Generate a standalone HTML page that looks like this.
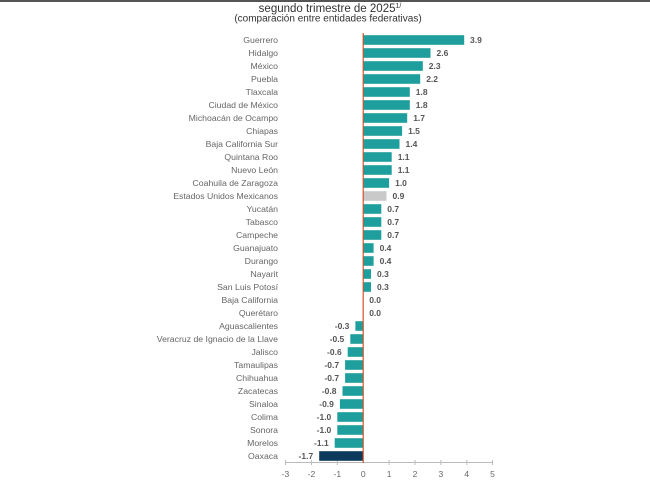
<!DOCTYPE html>
<html><head><meta charset="utf-8"><style>
html,body{margin:0;padding:0;background:#fff;}
svg{display:block;}
</style></head><body>
<svg width="650" height="483" viewBox="0 0 650 483" xmlns="http://www.w3.org/2000/svg" font-family="Liberation Sans, Arial, sans-serif">
<rect x="0" y="0" width="650" height="483" fill="#fff"/>
<rect x="0" y="0" width="650" height="2" fill="#555"/>
<text x="330" y="12" font-size="11.5" fill="#333" text-anchor="middle">segundo trimestre de 2025<tspan font-size="7" dy="-4">1/</tspan></text>
<text x="328" y="21.5" font-size="10" fill="#333" text-anchor="middle">(comparación entre entidades federativas)</text>
<!-- axis -->
<line x1="285" y1="462.5" x2="493" y2="462.5" stroke="#bbb" stroke-width="1"/>
<g stroke="#bbb" stroke-width="1">
<line x1="285.5" y1="460" x2="285.5" y2="465"/>
<line x1="311.4" y1="460" x2="311.4" y2="465"/>
<line x1="337.3" y1="460" x2="337.3" y2="465"/>
<line x1="389.1" y1="460" x2="389.1" y2="465"/>
<line x1="415" y1="460" x2="415" y2="465"/>
<line x1="440.9" y1="460" x2="440.9" y2="465"/>
<line x1="466.8" y1="460" x2="466.8" y2="465"/>
<line x1="492.5" y1="460" x2="492.5" y2="465"/>
</g>
<g font-size="8.5" fill="#666" text-anchor="middle">
<text x="285.5" y="477">-3</text>
<text x="311.4" y="477">-2</text>
<text x="337.3" y="477">-1</text>
<text x="363.2" y="477">0</text>
<text x="389.1" y="477">1</text>
<text x="415" y="477">2</text>
<text x="440.9" y="477">3</text>
<text x="466.8" y="477">4</text>
<text x="492.5" y="477">5</text>
</g>
<g font-size="8.7" fill="#666" text-anchor="end">
<text x="278" y="43">Guerrero</text>
<text x="278" y="56">Hidalgo</text>
<text x="278" y="69">México</text>
<text x="278" y="82">Puebla</text>
<text x="278" y="95">Tlaxcala</text>
<text x="278" y="108">Ciudad de México</text>
<text x="278" y="121">Michoacán de Ocampo</text>
<text x="278" y="134">Chiapas</text>
<text x="278" y="147">Baja California Sur</text>
<text x="278" y="160">Quintana Roo</text>
<text x="278" y="173">Nuevo León</text>
<text x="278" y="186">Coahuila de Zaragoza</text>
<text x="278" y="199">Estados Unidos Mexicanos</text>
<text x="278" y="212">Yucatán</text>
<text x="278" y="225">Tabasco</text>
<text x="278" y="238">Campeche</text>
<text x="278" y="251">Guanajuato</text>
<text x="278" y="264">Durango</text>
<text x="278" y="277">Nayarit</text>
<text x="278" y="290">San Luis Potosí</text>
<text x="278" y="303">Baja California</text>
<text x="278" y="316">Querétaro</text>
<text x="278" y="329">Aguascalientes</text>
<text x="278" y="342">Veracruz de Ignacio de la Llave</text>
<text x="278" y="355">Jalisco</text>
<text x="278" y="368">Tamaulipas</text>
<text x="278" y="381">Chihuahua</text>
<text x="278" y="394">Zacatecas</text>
<text x="278" y="407">Sinaloa</text>
<text x="278" y="420">Colima</text>
<text x="278" y="433">Sonora</text>
<text x="278" y="446">Morelos</text>
<text x="278" y="459">Oaxaca</text>
</g>
<!-- bars -->
<g fill="#1e9e9c">
<rect x="363.2" y="35.2" width="101.0" height="9.6"/>
<rect x="363.2" y="48.2" width="67.3" height="9.6"/>
<rect x="363.2" y="61.2" width="59.6" height="9.6"/>
<rect x="363.2" y="74.2" width="57.0" height="9.6"/>
<rect x="363.2" y="87.2" width="46.6" height="9.6"/>
<rect x="363.2" y="100.2" width="46.6" height="9.6"/>
<rect x="363.2" y="113.2" width="44.0" height="9.6"/>
<rect x="363.2" y="126.2" width="38.9" height="9.6"/>
<rect x="363.2" y="139.2" width="36.3" height="9.6"/>
<rect x="363.2" y="152.2" width="28.5" height="9.6"/>
<rect x="363.2" y="165.2" width="28.5" height="9.6"/>
<rect x="363.2" y="178.2" width="25.9" height="9.6"/>
<rect x="363.2" y="204.2" width="18.1" height="9.6"/>
<rect x="363.2" y="217.2" width="18.1" height="9.6"/>
<rect x="363.2" y="230.2" width="18.1" height="9.6"/>
<rect x="363.2" y="243.2" width="10.4" height="9.6"/>
<rect x="363.2" y="256.2" width="10.4" height="9.6"/>
<rect x="363.2" y="269.2" width="7.8" height="9.6"/>
<rect x="363.2" y="282.2" width="7.8" height="9.6"/>
<rect x="355.4" y="321.2" width="7.8" height="9.6"/>
<rect x="350.3" y="334.2" width="12.9" height="9.6"/>
<rect x="347.7" y="347.2" width="15.5" height="9.6"/>
<rect x="345.1" y="360.2" width="18.1" height="9.6"/>
<rect x="345.1" y="373.2" width="18.1" height="9.6"/>
<rect x="342.5" y="386.2" width="20.7" height="9.6"/>
<rect x="339.9" y="399.2" width="23.3" height="9.6"/>
<rect x="337.3" y="412.2" width="25.9" height="9.6"/>
<rect x="337.3" y="425.2" width="25.9" height="9.6"/>
<rect x="334.7" y="438.2" width="28.5" height="9.6"/>
</g>
<rect x="363.2" y="191.2" width="23.3" height="9.6" fill="#c9c9c9"/>
<rect x="319.2" y="451.2" width="44.0" height="9.6" fill="#0d3a5c"/>
<!-- zero line -->
<line x1="363.2" y1="33" x2="363.2" y2="463" stroke="#d2532b" stroke-width="1.2"/>
<!-- values -->
<g font-size="8.5" font-weight="bold" fill="#555">
<text x="470" y="43">3.9</text>
<text x="436.5" y="56">2.6</text>
<text x="428.8" y="69">2.3</text>
<text x="426.2" y="82">2.2</text>
<text x="415.8" y="95">1.8</text>
<text x="415.8" y="108">1.8</text>
<text x="413.2" y="121">1.7</text>
<text x="408.1" y="134">1.5</text>
<text x="405.5" y="147">1.4</text>
<text x="397.7" y="160">1.1</text>
<text x="397.7" y="173">1.1</text>
<text x="395.1" y="186">1.0</text>
<text x="392.5" y="199">0.9</text>
<text x="387.3" y="212">0.7</text>
<text x="387.3" y="225">0.7</text>
<text x="387.3" y="238">0.7</text>
<text x="379.6" y="251">0.4</text>
<text x="379.6" y="264">0.4</text>
<text x="377" y="277">0.3</text>
<text x="377" y="290">0.3</text>
<text x="369.2" y="303">0.0</text>
<text x="369.2" y="316">0.0</text>
</g>
<g font-size="8.5" font-weight="bold" fill="#555" text-anchor="end">
<text x="349.4" y="329">-0.3</text>
<text x="344.3" y="342">-0.5</text>
<text x="341.7" y="355">-0.6</text>
<text x="339.1" y="368">-0.7</text>
<text x="339.1" y="381">-0.7</text>
<text x="336.5" y="394">-0.8</text>
<text x="333.9" y="407">-0.9</text>
<text x="331.3" y="420">-1.0</text>
<text x="331.3" y="433">-1.0</text>
<text x="328.7" y="446">-1.1</text>
<text x="313.2" y="459">-1.7</text>
</g>
</svg>
</body></html>
